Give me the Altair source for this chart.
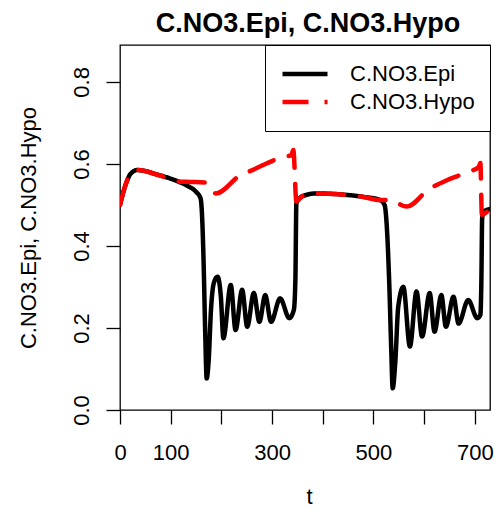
import altair as alt
import pandas as pd

series_names = ["C.NO3.Epi", "C.NO3.Hypo"]

# epilimnion nitrate (black, solid)
t_epi = [0, 11, 21, 34, 76, 115, 134, 150, 159, 162, 165, 168, 171, 175, 179.5,
         185, 192.5, 199, 204, 218.5, 228, 241, 251, 264, 275, 286.5, 298, 316,
         334, 343, 346, 348, 351.5, 361, 387, 432, 478, 513, 522, 526, 531, 535,
         538, 543, 549, 559, 572, 585, 596, 611, 620.5, 634, 643, 658, 668, 687,
         705, 711, 713, 714.5, 717, 730]
c_epi = [0.50, 0.549, 0.576, 0.585, 0.573, 0.557, 0.546, 0.532, 0.516, 0.471,
         0.358, 0.195, 0.077, 0.122, 0.244, 0.309, 0.325, 0.276, 0.175, 0.305,
         0.195, 0.293, 0.203, 0.285, 0.215, 0.28, 0.215, 0.272, 0.224, 0.244,
         0.317, 0.504, 0.512, 0.522, 0.528, 0.526, 0.52, 0.512, 0.50, 0.455,
         0.317, 0.154, 0.053, 0.114, 0.252, 0.30, 0.155, 0.289, 0.179, 0.285,
         0.191, 0.28, 0.203, 0.276, 0.211, 0.268, 0.224, 0.232, 0.317, 0.467,
         0.483, 0.49]

# hypolimnion nitrate (red, dashed)
t_hypo = [0, 11, 21, 34, 76, 115, 140, 173, 180, 189, 238, 261, 319, 338, 342,
          348, 351.5, 361, 387, 432, 478, 513, 540, 549, 566, 608, 646, 688,
          708, 711, 714, 730]
c_hypo = [0.50, 0.549, 0.576, 0.585, 0.573, 0.557, 0.556, 0.554, 0.545, 0.528,
          0.573, 0.585, 0.616, 0.622, 0.634, 0.508, 0.512, 0.522, 0.528, 0.526,
          0.52, 0.512, 0.512, 0.504, 0.496, 0.537, 0.561, 0.581, 0.593, 0.602,
          0.476, 0.492]

x_ticks = [0, 100, 200, 300, 400, 500, 600, 700]
y_ticks = [0.0, 0.2, 0.4, 0.6, 0.8]

FONT = "Liberation Sans"

epi = pd.DataFrame({"t": t_epi, "value": c_epi, "series": series_names[0]})
hypo = pd.DataFrame({"t": t_hypo, "value": c_hypo, "series": series_names[1]})

x_enc = alt.X(
    "t:Q",
    scale=alt.Scale(domain=[0, 730], nice=False, zero=False),
    axis=alt.Axis(
        values=x_ticks,
        labelExpr="datum.value == 0 || datum.value % 200 == 100 ? datum.label : ''",
        format="d",
        title="t",
        titleX=189,
        titleY=93,
        titleBaseline="alphabetic",
        labelPadding=18,
    ),
)
y_enc = alt.Y(
    "value:Q",
    scale=alt.Scale(domain=[0, 0.89], nice=False, zero=False),
    axis=alt.Axis(
        values=y_ticks,
        format=".1f",
        title="C.NO3.Epi, C.NO3.Hypo",
        labelAngle=270,
        labelAlign="center",
        labelBaseline="alphabetic",
        labelPadding=18,
        titleAngle=270,
        titleAlign="center",
        titleBaseline="alphabetic",
        titleX=-85,
        titleY=182.5,
    ),
)
color_enc = alt.Color(
    "series:N",
    scale=alt.Scale(domain=series_names, range=["#000000", "#ff0000"]),
    legend=alt.Legend(title=None),
)
dash_enc = alt.StrokeDash(
    "series:N",
    scale=alt.Scale(domain=series_names, range=[[1, 0], [26, 16]]),
    legend=alt.Legend(title=None),
)

line_style = dict(strokeWidth=4.5, strokeCap="round", strokeJoin="round",
                  interpolate="monotone", clip=True)

epi_line = alt.Chart(epi).mark_line(**line_style).encode(
    x=x_enc, y=y_enc, color=color_enc, strokeDash=dash_enc
)
hypo_line = alt.Chart(hypo).mark_line(**line_style).encode(
    x=x_enc, y=y_enc, color=color_enc, strokeDash=dash_enc
)

chart = (
    (epi_line + hypo_line)
    .properties(
        width=370,
        height=365,
        autosize=alt.AutoSizeParams(type="none"),
        padding={"left": 112, "top": 37, "right": 4, "bottom": 100},
        title=alt.TitleParams(
            "C.NO3.Epi, C.NO3.Hypo",
            font=FONT,
            fontSize=27,
            fontWeight="bold",
            color="black",
            anchor="middle",
            offset=7,
            dx=3,
        ),
    )
    .configure_view(stroke="black", strokeWidth=1.3)
    .configure_axis(
        grid=False,
        domain=False,
        tickColor="black",
        tickSize=14,
        tickWidth=1.3,
        labelFont=FONT,
        labelFontSize=22,
        labelColor="black",
        labelFlush=False,
        labelOverlap=False,
        titleFont=FONT,
        titleFontSize=22,
        titleFontWeight="normal",
        titleColor="black",
    )
    .configure_legend(
        orient="top-right",
        offset=0,
        padding=15,
        strokeColor="black",
        fillColor="white",
        cornerRadius=0,
        symbolType="stroke",
        symbolSize=2025,
        symbolStrokeWidth=4.5,
        labelFont=FONT,
        labelFontSize=22,
        labelColor="black",
        labelOffset=20,
        clipHeight=28,
        rowPadding=0,
    )
)

chart.save("out.html", embed_options={"renderer": "svg", "actions": False})
